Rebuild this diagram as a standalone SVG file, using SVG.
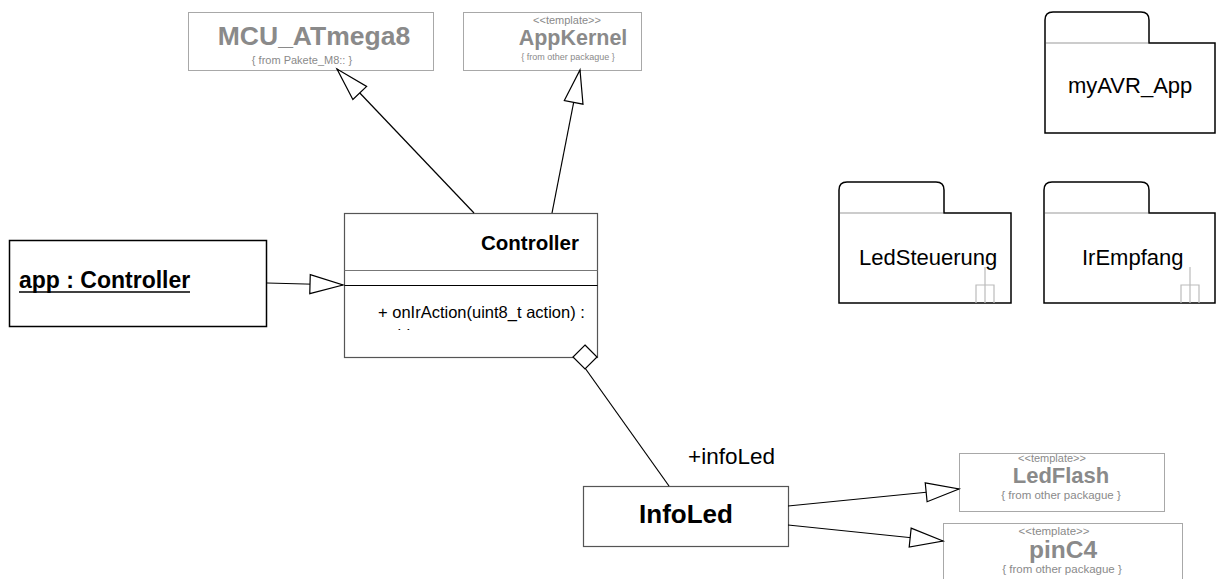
<svg xmlns="http://www.w3.org/2000/svg" width="1216" height="579" viewBox="0 0 1216 579">
  <style>
    text { font-family: "Liberation Sans", Arial, sans-serif; }
    .ext { fill: #ffffff; stroke: #a8a8a8; stroke-width: 1; }
    .ext-title { font-weight: bold; fill: #8a8a8a; text-anchor: middle; }
    .ext-small { fill: #8a8a8a; text-anchor: middle; }
    .cls { fill: #ffffff; stroke: #555555; stroke-width: 1.2; }
    .title { font-weight: bold; fill: #000000; }
    .label { fill: #000000; }
    .pkg { fill: #ffffff; stroke: #000000; stroke-width: 1.5; }
    .pkg-sep { stroke: #bbbbbb; stroke-width: 1.5; }
    .rake { fill: none; stroke: #bbbbbb; stroke-width: 1.2; }
    .conn { fill: none; stroke: #000000; stroke-width: 1.2; }
  </style>
  <defs>
    <!-- hollow generalisation / realisation head -->
    <marker id="hollow" markerUnits="userSpaceOnUse" markerWidth="38" markerHeight="24" refX="35" refY="11" orient="auto">
      <path d="M2,1.5 L35,11 L2,20.5 Z" fill="#ffffff" stroke="#000000" stroke-width="1.2"/>
    </marker>
    <clipPath id="ops-clip">
      <rect x="345" y="286" width="252" height="44"/>
    </clipPath>
  </defs>

  <!-- external classes -->
  <g id="mcu-atmega8">
    <rect class="ext" x="188.5" y="12.5" width="245" height="58"/>
    <text class="ext-title" x="314" y="45" font-size="26.5">MCU_ATmega8</text>
    <text class="ext-small" x="302" y="64" font-size="11">{ from Pakete_M8:: }</text>
  </g>

  <g id="appkernel">
    <rect class="ext" x="463.5" y="12.5" width="178" height="58"/>
    <text class="ext-small" x="567" y="24" font-size="11">&lt;&lt;template&gt;&gt;</text>
    <text class="ext-title" x="573" y="45" font-size="21.5">AppKernel</text>
    <text class="ext-small" x="568" y="60" font-size="9">{ from other packague }</text>
  </g>

  <g id="ledflash">
    <rect class="ext" x="959.5" y="453.5" width="205" height="58"/>
    <text class="ext-small" x="1052" y="461.5" font-size="11">&lt;&lt;template&gt;&gt;</text>
    <text class="ext-title" x="1061" y="483" font-size="22">LedFlash</text>
    <text class="ext-small" x="1061" y="499" font-size="11.5">{ from other packague }</text>
  </g>

  <g id="pinc4">
    <rect class="ext" x="943.5" y="523.5" width="239" height="70"/>
    <text class="ext-small" x="1054" y="535" font-size="11.5">&lt;&lt;template&gt;&gt;</text>
    <text class="ext-title" x="1063" y="558" font-size="24.5">pinC4</text>
    <text class="ext-small" x="1062" y="573" font-size="11.5">{ from other packague }</text>
  </g>

  <!-- object instance -->
  <g id="app-controller">
    <rect x="9.5" y="240.5" width="257" height="86" fill="#ffffff" stroke="#000000" stroke-width="1.5"/>
    <text class="title" x="19" y="288" font-size="23">app : Controller</text>
    <line x1="19" y1="292" x2="190" y2="292" stroke="#000000" stroke-width="1.5"/>
  </g>

  <!-- main class -->
  <g id="controller">
    <rect class="cls" x="344.5" y="213.5" width="253" height="144"/>
    <line x1="344.5" y1="270.5" x2="597.5" y2="270.5" stroke="#777777" stroke-width="1"/>
    <line x1="344.5" y1="285.5" x2="597.5" y2="285.5" stroke="#000000" stroke-width="1"/>
    <text class="title" x="481" y="250" font-size="20.5">Controller</text>
    <g clip-path="url(#ops-clip)">
      <text class="label" x="378" y="318" font-size="16.5">+ onIrAction(uint8_t action) :</text>
      <text class="label" x="380" y="341" font-size="16.5">void</text>
    </g>
  </g>

  <g id="infoled">
    <rect class="cls" x="583.5" y="486.5" width="205" height="60"/>
    <text class="title" x="686" y="523" font-size="26" text-anchor="middle">InfoLed</text>
  </g>

  <!-- packages -->
  <g id="pkg-myavr-app">
    <path class="pkg" d="M1045,43 L1045,20 Q1045,12 1053,12 L1141,12 Q1149,12 1149,20 L1149,43 L1215,43 L1215,133 L1045,133 Z"/>
    <line class="pkg-sep" x1="1046" y1="43" x2="1148" y2="43"/>
    <text class="label" x="1068" y="93" font-size="22">myAVR_App</text>
  </g>

  <g id="pkg-ledsteuerung">
    <path class="pkg" d="M839,213 L839,190 Q839,182 847,182 L936,182 Q944,182 944,190 L944,213 L1011,213 L1011,303 L839,303 Z"/>
    <line class="pkg-sep" x1="840" y1="213" x2="943" y2="213"/>
    <text class="label" x="859" y="265" font-size="22">LedSteuerung</text>
    <path class="rake" d="M985,267 L985,303 M976,303 L976,285 L994,285 L994,303"/>
  </g>

  <g id="pkg-irempfang">
    <path class="pkg" d="M1044,213 L1044,190 Q1044,182 1052,182 L1141,182 Q1149,182 1149,190 L1149,213 L1215,213 L1215,303 L1044,303 Z"/>
    <line class="pkg-sep" x1="1045" y1="213" x2="1148" y2="213"/>
    <text class="label" x="1082" y="265" font-size="22">IrEmpfang</text>
    <path class="rake" d="M1190,267 L1190,303 M1181,303 L1181,285 L1199,285 L1199,303"/>
  </g>

  <!-- connectors -->
  <g id="connectors">
    <line class="conn" x1="474" y1="213" x2="337" y2="69" stroke-width="2" marker-end="url(#hollow)"/>
    <line class="conn" x1="552" y1="213" x2="580" y2="70" marker-end="url(#hollow)"/>
    <line class="conn" x1="267" y1="283" x2="343" y2="285" marker-end="url(#hollow)"/>
    <line class="conn" x1="788" y1="506" x2="959" y2="489" marker-end="url(#hollow)"/>
    <line class="conn" x1="788" y1="525" x2="943" y2="541" marker-end="url(#hollow)"/>
    <line class="conn" x1="585" y1="368" x2="669" y2="486" stroke-width="1.6"/>
    <polygon points="585,345 597,357 585,369 573,357" fill="#ffffff" stroke="#000000" stroke-width="1.2"/>
    <text class="label" x="688" y="464" font-size="22.5">+infoLed</text>
  </g>
</svg>
